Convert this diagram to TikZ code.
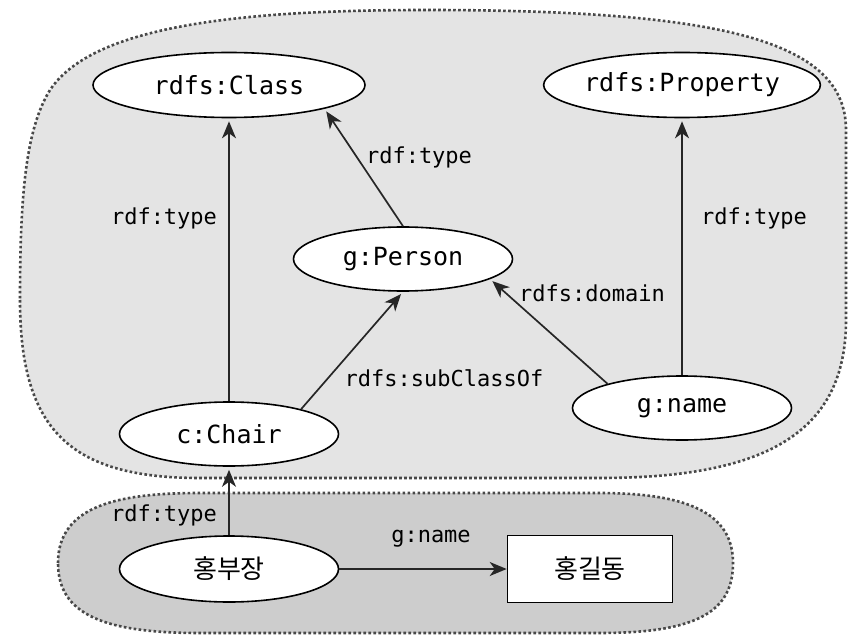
\documentclass[tikz,border=0pt]{standalone}
\usepackage{fontspec}
\setmonofont{DejaVu Sans Mono}
\newfontfamily\krfont{Noto Sans CJK KR}
\usetikzlibrary{shapes.geometric,arrows.meta}
\definecolor{topfill}{HTML}{E4E4E4}
\definecolor{botfill}{HTML}{CDCDCD}
\definecolor{dotcol}{HTML}{484848}
\tikzset{
  big/.style={ellipse,draw=black,line width=1.6pt,fill=white,minimum width=272pt,minimum height=65pt,inner sep=0pt,font=\fontsize{25}{30}\selectfont\ttfamily},
  small/.style={big,minimum width=219pt,minimum height=64pt},
  kr/.style={ellipse,draw=black,line width=1.6pt,fill=white,minimum width=219pt,minimum height=66pt,inner sep=0pt,font=\fontsize{26}{30}\selectfont\krfont},
  litbox/.style={rectangle,draw=black,line width=1.6pt,fill=white,minimum width=165pt,minimum height=67pt,inner sep=0pt,font=\fontsize{26}{30}\selectfont\krfont},
  lbl/.style={inner sep=0pt,font=\fontsize{22}{26}\selectfont\ttfamily},
  rel/.style={line width=1.7pt,draw=black!85,-{Stealth[length=17pt,width=14pt,inset=5pt]},shorten >=3pt},
  region/.style={draw=dotcol,line width=2.6pt,dash pattern=on 2.6pt off 2.4pt},
}
\begin{document}
\begin{tikzpicture}[x=1pt,y=-1pt]
\useasboundingbox (0,0) rectangle (850,636);
% top region
\path[region,fill=topfill] (20,300) .. controls (20,430) and (70,478) .. (200,478) -- (600,478)
  .. controls (770,478) and (846,430) .. (846,320) -- (846,130)
  .. controls (846,40) and (720,10) .. (425,10)
  .. controls (220,10) and (90,30) .. (50,90)
  .. controls (25,130) and (20,200) .. (20,300) -- cycle;
% bottom region
\path[region,fill=botfill] (58,563) .. controls (58,505) and (120,493) .. (200,493) -- (600,493)
  .. controls (700,493) and (733,520) .. (733,563)
  .. controls (733,610) and (700,633) .. (600,633) -- (200,633)
  .. controls (105,633) and (58,615) .. (58,563) -- cycle;

\node[big] (class) at (229,85) {rdfs:Class};
\node[big] (prop) at (682,85) {rdfs:Property};
\node[small] (person) at (403,259) {g:Person};
\node[small] (chair) at (229,434) {c:Chair};
\node[small] (name) at (682,408) {g:name};
\node[kr] (bu) at (229,569) {홍부장};
\node[litbox] (gd) at (590,569) {홍길동};

\draw[rel] (chair.north) -- (class.south);
\draw[rel] (person.north) -- (class.-14);
\draw[rel] (chair.19) -- (person.south);
\draw[rel] (name.162) -- (person.-13);
\draw[rel] (name.north) -- (prop.south);
\draw[rel] (bu.north) -- (chair.south);
\draw[rel,shorten >=0pt] (bu.east) -- (gd.west);

\node[lbl] (l1) at (164,218) {rdf:type};
\node[lbl] (l2) at (419,157) {rdf:type};
\node[lbl] (l3) at (444,378) {rdfs:subClassOf};
\node[lbl] (l4) at (592,293) {rdfs:domain};
\node[lbl] (l5) at (754,218) {rdf:type};
\node[lbl] (l6) at (164,515) {rdf:type};
\node[lbl] (l7) at (431,539) {g:name};
\end{tikzpicture}
\end{document}
